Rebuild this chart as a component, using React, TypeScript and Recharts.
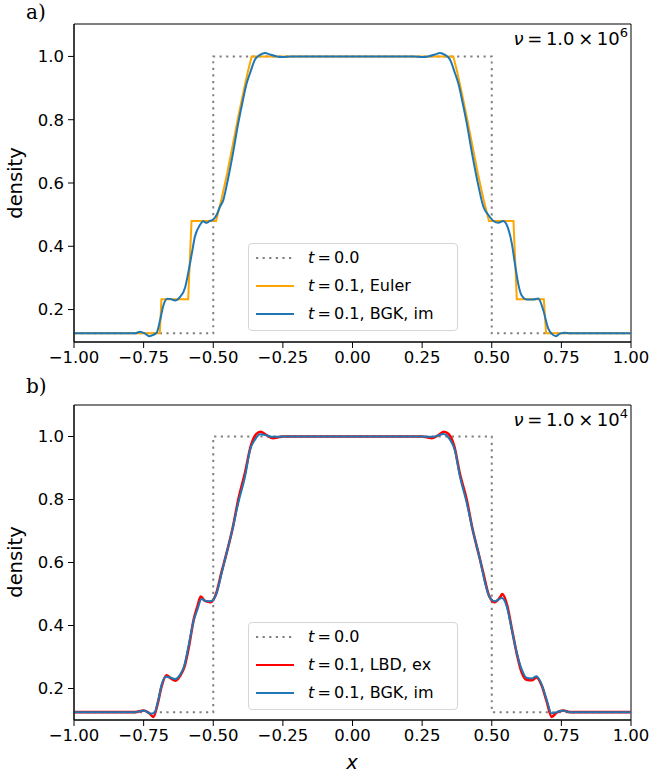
import React from "react";
import { LineChart, Line, XAxis, YAxis, ReferenceArea } from "recharts";

const xTicks = [-1, -0.75, -0.5, -0.25, 0, 0.25, 0.5, 0.75, 1];
const yTicks = [0.2, 0.4, 0.6, 0.8, 1.0];

// initial condition t = 0.0
const initX = [-1, -0.5, -0.5, 0.5, 0.5, 1];
const initY = [0.125, 0.125, 1.0, 1.0, 0.125, 0.125];

// panel a: exact Euler
const eulerX = [-1, -0.692, -0.686, -0.59, -0.578, -0.49, -0.47, -0.45, -0.43, -0.41, -0.39, -0.375, -0.362,
  0.362, 0.375, 0.39, 0.41, 0.43, 0.45, 0.47, 0.49, 0.578, 0.59, 0.687, 0.695, 1];
const eulerY = [0.125, 0.125, 0.233, 0.233, 0.48, 0.48, 0.55, 0.63, 0.72, 0.81, 0.895, 0.955, 1.0,
  1.0, 0.955, 0.895, 0.81, 0.72, 0.63, 0.55, 0.48, 0.48, 0.233, 0.233, 0.125, 0.125];

// panel a: BGK implicit
const bgkAX = [-1, -0.78, -0.763, -0.745, -0.73, -0.715, -0.703, -0.691, -0.679, -0.665, -0.652, -0.637, -0.619,
  -0.601, -0.59, -0.577, -0.566, -0.548, -0.536, -0.524, -0.512, -0.5, -0.488, -0.476, -0.464, -0.45, -0.43,
  -0.41, -0.392, -0.38, -0.368, -0.35, -0.332, -0.314, -0.296, -0.272, -0.25, -0.22,
  0.22, 0.25, 0.272, 0.296, 0.314, 0.332, 0.35, 0.368, 0.38, 0.392, 0.41, 0.43, 0.45, 0.47, 0.488, 0.506,
  0.524, 0.541, 0.559, 0.572, 0.583, 0.595, 0.607, 0.625, 0.649, 0.667, 0.685, 0.703, 0.715, 0.731, 0.745,
  0.763, 0.78, 1];
const bgkAY = [0.125, 0.125, 0.13, 0.124, 0.116, 0.12, 0.127, 0.166, 0.213, 0.234, 0.233, 0.229, 0.24,
  0.27, 0.315, 0.377, 0.43, 0.467, 0.479, 0.474, 0.48, 0.485, 0.499, 0.525, 0.546, 0.6, 0.69,
  0.79, 0.868, 0.915, 0.947, 0.99, 1.005, 1.011, 1.006, 1.0, 0.998, 1.0,
  1.0, 0.998, 1.0, 1.006, 1.011, 1.005, 0.99, 0.947, 0.915, 0.868, 0.79, 0.69, 0.6, 0.525, 0.499, 0.48,
  0.474, 0.48, 0.456, 0.409, 0.346, 0.282, 0.245, 0.232, 0.232, 0.235, 0.198, 0.14, 0.124, 0.116, 0.124,
  0.127, 0.125, 0.125];

// panel b: LBD explicit
const lbdX = [-1, -0.78, -0.75, -0.73, -0.715, -0.7, -0.686, -0.668, -0.652, -0.635, -0.619, -0.603, -0.587,
  -0.57, -0.557, -0.545, -0.53, -0.51, -0.49, -0.47, -0.455, -0.43, -0.41, -0.386, -0.365, -0.345, -0.33,
  -0.31, -0.285, -0.27, -0.25,
  0.25, 0.27, 0.285, 0.31, 0.328, 0.345, 0.365, 0.386, 0.41, 0.43, 0.455, 0.47, 0.49, 0.51, 0.53, 0.538,
  0.555, 0.572, 0.59, 0.608, 0.625, 0.643, 0.661, 0.679, 0.697, 0.715, 0.733, 0.757, 0.78, 1];
const lbdY = [0.125, 0.125, 0.13, 0.122, 0.11, 0.15, 0.205, 0.242, 0.232, 0.225, 0.24, 0.27, 0.335,
  0.42, 0.46, 0.492, 0.478, 0.474, 0.5, 0.57, 0.62, 0.71, 0.8, 0.885, 0.97, 1.008, 1.015,
  1.005, 0.995, 0.997, 1.0,
  1.0, 0.997, 0.995, 1.005, 1.015, 1.008, 0.97, 0.88, 0.8, 0.71, 0.62, 0.565, 0.495, 0.474, 0.49, 0.5,
  0.465, 0.39, 0.31, 0.25, 0.228, 0.226, 0.235, 0.21, 0.16, 0.11, 0.123, 0.13, 0.125, 0.125];

// panel b: BGK implicit
const bgkBX = [-1, -0.78, -0.751, -0.738, -0.726, -0.712, -0.697, -0.685, -0.67, -0.655, -0.637, -0.619, -0.605,
  -0.589, -0.571, -0.557, -0.542, -0.524, -0.506, -0.488, -0.47, -0.458, -0.43, -0.41, -0.386, -0.368,
  -0.35, -0.332, -0.31, -0.29, -0.272, -0.25,
  0.25, 0.272, 0.29, 0.31, 0.326, 0.35, 0.368, 0.386, 0.41, 0.43, 0.458, 0.476, 0.494, 0.512, 0.536, 0.554,
  0.572, 0.59, 0.608, 0.625, 0.643, 0.661, 0.679, 0.697, 0.715, 0.733, 0.757, 0.78, 1];
const bgkBY = [0.125, 0.125, 0.13, 0.126, 0.12, 0.122, 0.165, 0.213, 0.237, 0.235, 0.23, 0.244, 0.27,
  0.334, 0.413, 0.45, 0.484, 0.477, 0.478, 0.503, 0.566, 0.609, 0.71, 0.79, 0.872, 0.957,
  0.99, 1.007, 1.004, 0.999, 0.999, 1.0,
  1.0, 0.999, 0.999, 1.004, 1.008, 0.99, 0.955, 0.872, 0.79, 0.71, 0.609, 0.535, 0.487, 0.477, 0.487, 0.46,
  0.387, 0.313, 0.26, 0.234, 0.232, 0.239, 0.213, 0.165, 0.121, 0.125, 0.13, 0.125, 0.125];

const zip = (xs: number[], ys: number[]) => xs.map((x, i) => ({ x, y: ys[i] }));

const FONT = "'DejaVu Sans', sans-serif";
const GRAY = "#808080";
const ORANGE = "#ffa500";
const BLUE = "#1f77b4";
const RED = "#ff0000";

type Series = { name: string; data: { x: number; y: number }[]; color: string; width: number; dash?: string; type: "linear" | "monotone" };

const fmtX = (v: number) => v.toFixed(2).replace("-", "\u2212");
const fmtY = (v: number) => v.toFixed(1);

function Panel({ top, height, margin, yDomain, series }: {
  top: number; height: number; margin: { top: number; right: number; left: number; bottom: number };
  yDomain: [number, number]; series: Series[];
}) {
  return (
    <div style={{ position: "absolute", left: 0, top }}>
      <LineChart width={653} height={height} margin={margin}>
        <XAxis
          type="number"
          dataKey="x"
          domain={[-1, 1]}
          ticks={xTicks}
          tickFormatter={fmtX}
          height={30}
          tickSize={6}
          tickMargin={3}
          stroke="#000"
          tick={{ fill: "#000", fontSize: 16.5, fontFamily: FONT }}
          allowDataOverflow
        />
        <YAxis
          type="number"
          dataKey="y"
          domain={yDomain}
          ticks={yTicks}
          tickFormatter={fmtY}
          width={50}
          tickSize={6}
          tickMargin={4}
          stroke="#000"
          tick={{ fill: "#000", fontSize: 16.5, fontFamily: FONT }}
          allowDataOverflow
        />
        {series.map((s) => (
          <Line
            key={s.name}
            data={s.data}
            dataKey="y"
            type={s.type}
            stroke={s.color}
            strokeWidth={s.width}
            strokeDasharray={s.dash}
            dot={false}
            activeDot={false}
            isAnimationActive={false}
          />
        ))}
        <ReferenceArea x1={-1} x2={1} y1={yDomain[0]} y2={yDomain[1]} fill="none" fillOpacity={0} stroke="#000" strokeWidth={1} />
      </LineChart>
    </div>
  );
}

function LegendBox({ top, items }: { top: number; items: { label: React.ReactNode; color: string; dash?: string; width: number }[] }) {
  return (
    <div
      style={{
        position: "absolute", left: 248, top, width: 210, height: 88, boxSizing: "border-box",
        border: "1px solid #d6d6d6", borderRadius: 4, background: "rgba(255,255,255,0.85)",
        fontFamily: FONT, fontSize: 16, color: "#000",
      }}
    >
      {items.map((it, i) => (
        <div key={i} style={{ position: "absolute", left: 0, top: 14 + i * 28 - 10, height: 20, width: 208 }}>
          <svg width={50} height={20} style={{ position: "absolute", left: 0, top: 0 }}>
            <line x1={7} x2={45} y1={10} y2={10} stroke={it.color} strokeWidth={it.width} strokeDasharray={it.dash} />
          </svg>
          <div style={{ position: "absolute", left: 59, top: 0, lineHeight: "20px", whiteSpace: "nowrap" }}>{it.label}</div>
        </div>
      ))}
    </div>
  );
}

const tLabel = (rest: string) => (
  <span>
    <i>t</i>{"\u2009=\u2009"}{rest}
  </span>
);

function Nu({ top, exp }: { top: number; exp: string }) {
  return (
    <div style={{ position: "absolute", right: 25, top, fontFamily: FONT, fontSize: 18, color: "#000", whiteSpace: "nowrap" }}>
      <i>ν</i>{"\u2009=\u2009"}1.0{"\u2009×\u2009"}10<span style={{ fontSize: 13, position: "relative", top: -8 }}>{exp}</span>
    </div>
  );
}

function YLabel({ center }: { center: number }) {
  return (
    <div
      style={{
        position: "absolute", left: 15, top: center, transform: "translate(-50%, -50%) rotate(-90deg)",
        fontFamily: FONT, fontSize: 19.5, color: "#000", whiteSpace: "nowrap",
      }}
    >
      density
    </div>
  );
}

export default function App() {
  const yDomain: [number, number] = [0.0975, 1.1025];
  const seriesA: Series[] = [
    { name: "init", data: zip(initX, initY), color: GRAY, width: 2, dash: "2.2 4.4", type: "linear" },
    { name: "euler", data: zip(eulerX, eulerY), color: ORANGE, width: 2, type: "linear" },
    { name: "bgk", data: zip(bgkAX, bgkAY), color: BLUE, width: 2, type: "monotone" },
  ];
  const seriesB: Series[] = [
    { name: "init", data: zip(initX, initY), color: GRAY, width: 2, dash: "2.2 4.4", type: "linear" },
    { name: "lbd", data: zip(lbdX, lbdY), color: RED, width: 2.6, type: "monotone" },
    { name: "bgk", data: zip(bgkBX, bgkBY), color: BLUE, width: 2, type: "monotone" },
  ];
  return (
    <div style={{ position: "absolute", left: 0, top: 0, width: 653, height: 774, background: "#fff", overflow: "hidden" }}>
      <Panel top={0} height={380} margin={{ top: 24, right: 22, left: 24, bottom: 8 }} yDomain={yDomain} series={seriesA} />
      <Panel top={380} height={394} margin={{ top: 25, right: 22, left: 24, bottom: 24 }} yDomain={[0.1, 1.1]} series={seriesB} />

      <div style={{ position: "absolute", left: 26, top: 0, lineHeight: "24px", fontFamily: "'DejaVu Serif', serif", fontSize: 20 }}>a)</div>
      <div style={{ position: "absolute", left: 26, top: 374, lineHeight: "24px", fontFamily: "'DejaVu Serif', serif", fontSize: 20 }}>b)</div>

      <Nu top={28} exp="6" />
      <Nu top={409} exp="4" />

      <YLabel center={183} />
      <YLabel center={562} />

      <div style={{ position: "absolute", left: 352, top: 762, transform: "translate(-50%, -50%)", fontFamily: FONT, fontSize: 19.5, fontStyle: "italic" }}>x</div>

      <LegendBox
        top={243}
        items={[
          { label: tLabel("0.0"), color: GRAY, dash: "2.2 4.4", width: 2 },
          { label: tLabel("0.1, Euler"), color: ORANGE, width: 2 },
          { label: tLabel("0.1, BGK, im"), color: BLUE, width: 2 },
        ]}
      />
      <LegendBox
        top={622}
        items={[
          { label: tLabel("0.0"), color: GRAY, dash: "2.2 4.4", width: 2 },
          { label: tLabel("0.1, LBD, ex"), color: RED, width: 2 },
          { label: tLabel("0.1, BGK, im"), color: BLUE, width: 2 },
        ]}
      />
    </div>
  );
}
